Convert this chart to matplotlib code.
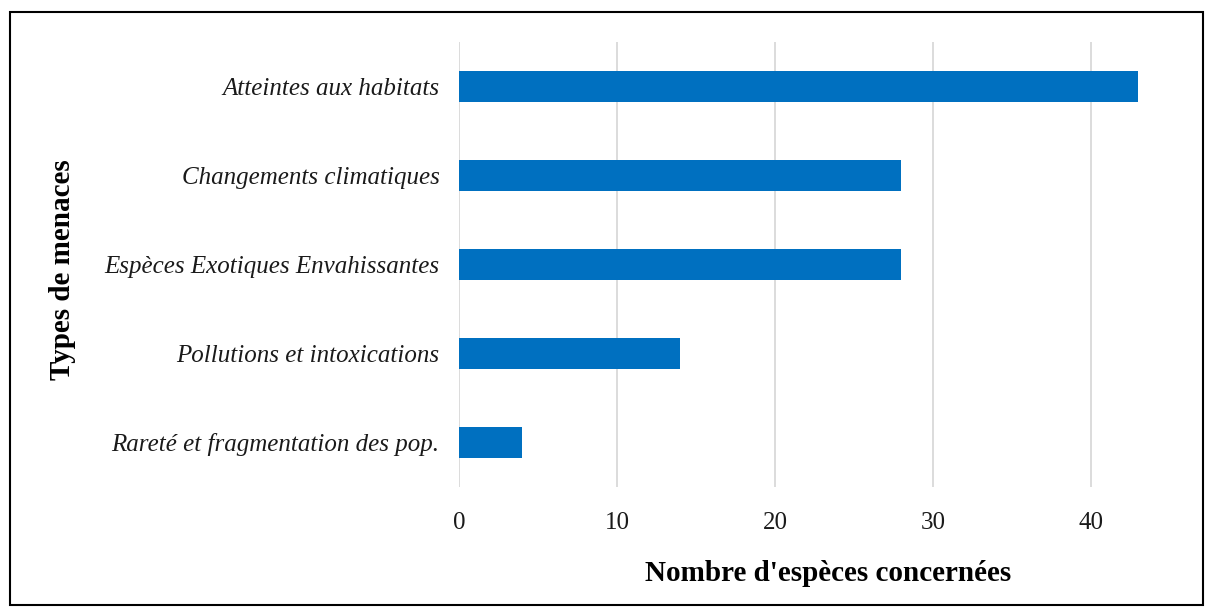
import matplotlib

matplotlib.use("Agg")
import matplotlib.pyplot as plt
from matplotlib.patches import Rectangle

categories = [
    "Atteintes aux habitats",
    "Changements climatiques",
    "Espèces Exotiques Envahissantes",
    "Pollutions et intoxications",
    "Rareté et fragmentation des pop.",
]
counts = [43, 28, 28, 14, 4]
x_ticks = [0, 10, 20, 30, 40]

plt.rcParams["font.family"] = ["Liberation Serif", "DejaVu Serif"]

fig = plt.figure(figsize=(12.08, 6.12), dpi=100)
ax = fig.add_axes([459 / 1208, 1 - 487 / 612, (1170 - 459) / 1208, (487 - 42) / 612])

pos = list(range(len(categories)))[::-1]
ax.barh(pos, counts, height=0.35, color="#0070C0", zorder=3)

ax.set_xlim(0, 45)
ax.set_ylim(-0.5, len(categories) - 0.5)
ax.set_xticks(x_ticks)
ax.set_yticks(pos)
ax.set_yticklabels(categories, fontstyle="italic", fontsize=18)
ax.tick_params(axis="x", labelsize=18, length=0, pad=18, labelcolor="#1a1a1a")
ax.tick_params(axis="y", length=0, pad=14, labelcolor="#1a1a1a")
ax.grid(axis="x", color="#d9d9d9", linewidth=1.3, zorder=0)
for s in ax.spines.values():
    s.set_visible(False)

ax.set_xlabel("Nombre d'espèces concernées", fontsize=21, fontweight="bold")
ax.xaxis.set_label_coords(0.519, -0.165)
fig.text(63 / 1208, 1 - 270 / 612, "Types de menaces", rotation=90, fontsize=21,
         fontweight="bold", ha="center", va="center")

fig.patches.append(Rectangle((10 / 1208, 7 / 612), 1193 / 1208, 593 / 612, transform=fig.transFigure,
                             fill=False, edgecolor="black", linewidth=1.5))

fig.savefig("out.png", dpi=100)
plt.close(fig)
